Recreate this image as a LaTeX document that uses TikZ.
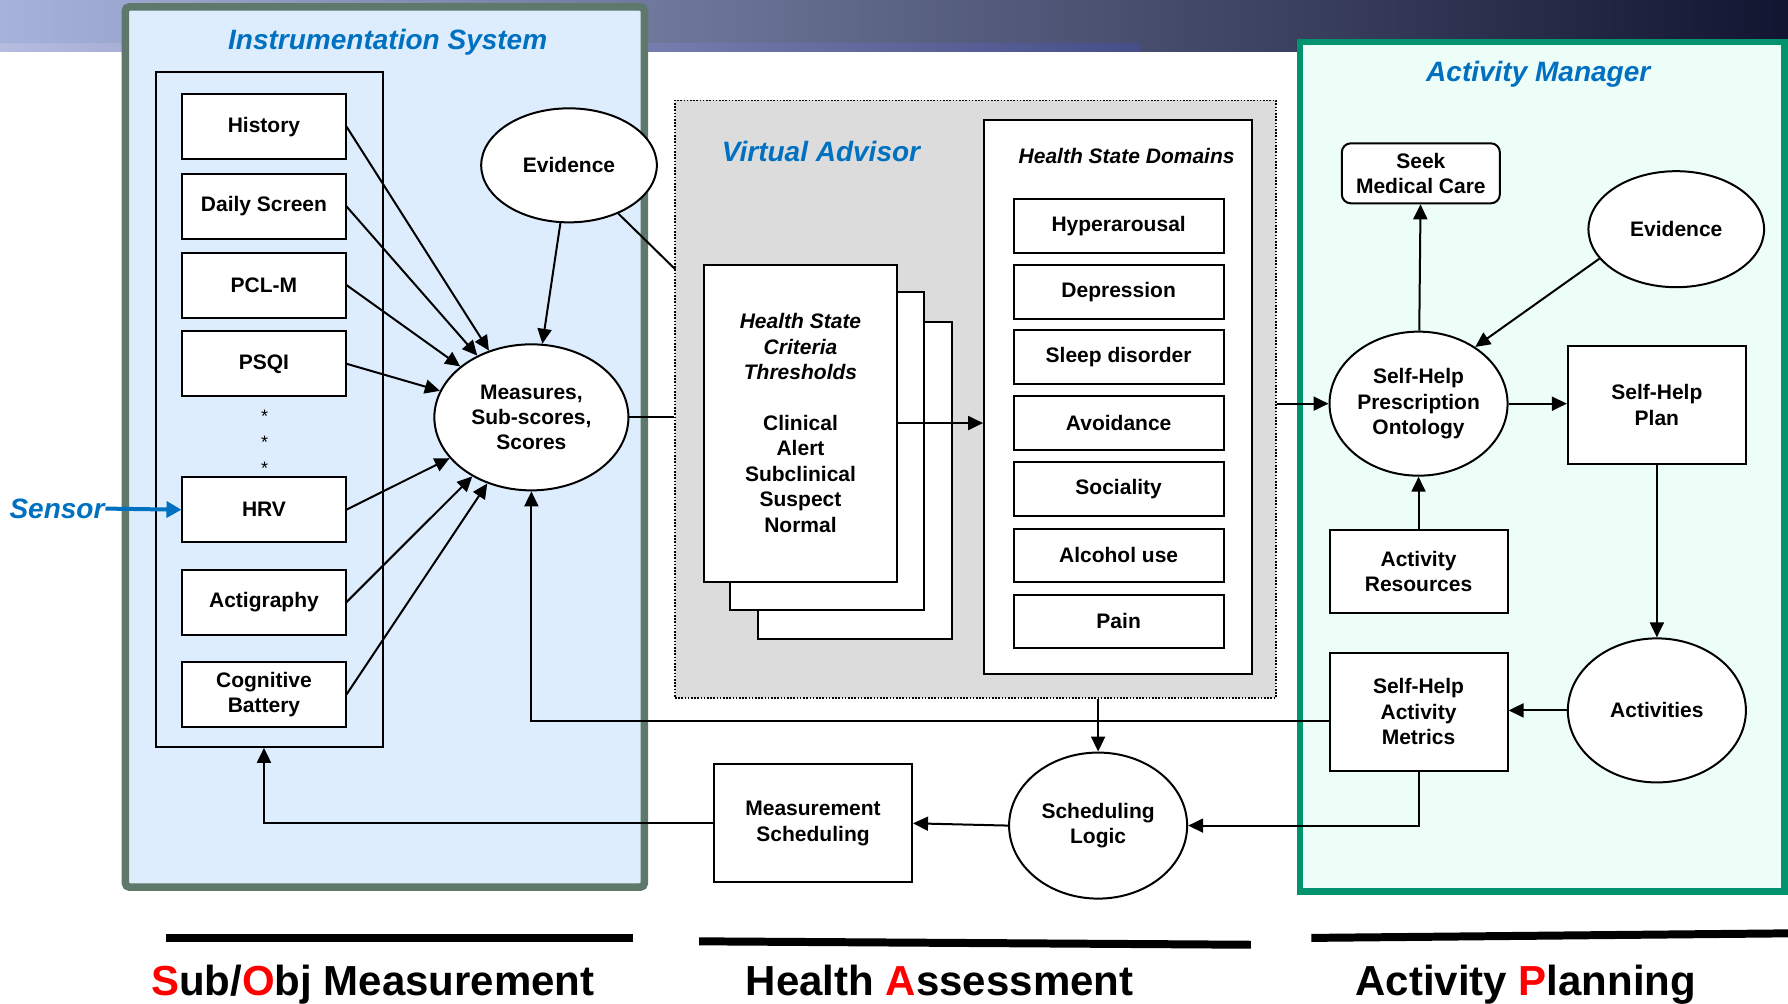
\documentclass[tikz,border=0pt]{standalone}
\usepackage{fontspec}
\setmainfont{Liberation Sans}
\usepackage{xcolor}
\usepackage{tikz}
\usetikzlibrary{arrows.meta, shapes.geometric}

\definecolor{titleblue}{HTML}{0070C0}
\definecolor{instrfill}{HTML}{DDEDFD}
\definecolor{instrline}{HTML}{5E786C}
\definecolor{vafill}{HTML}{DCDCDC}
\definecolor{amfill}{HTML}{EDFDF8}
\definecolor{amline}{HTML}{00936E}
\definecolor{banL}{HTML}{A6B2DA}
\definecolor{banM}{HTML}{464E88}
\definecolor{banR}{HTML}{111530}
\definecolor{banStrip}{HTML}{B4BCE0}

\newcommand{\boxfont}{\fontsize{10.5pt}{12.7pt}\selectfont\bfseries}
\newcommand{\titlefont}{\fontsize{14pt}{16pt}\selectfont\bfseries\itshape}
\newcommand{\bigfont}{\fontsize{21pt}{24pt}\selectfont\bfseries}

\tikzset{
  panel/.style={draw, rectangle, inner sep=0pt},
  boxnode/.style={draw, fill=white, rectangle, align=center, font=\boxfont, inner sep=2pt},
  ovalnode/.style={draw, fill=white, ellipse, align=center, font=\boxfont, inner sep=0pt},
  paneltitle/.style={font=\titlefont, text=titleblue},
  caption/.style={font=\bigfont, anchor=base},
}

\begin{document}
\begin{tikzpicture}[x=0.57pt, y=-0.57pt, line width=1pt,
  >={Triangle[length=7.5pt, width=7pt]}]

\useasboundingbox (0,0) rectangle (1568,880);

% banner along the top edge
\shade[left color=banL, middle color=banM, right color=banR] (0,0) rectangle (1568,45);
\shade[left color=banStrip, right color=banM] (0,38) rectangle (1000,45);

% the three panels
\node[panel, fill=instrfill, draw=instrline, line width=3.8pt, rounded corners=2pt,
  minimum width=259.4pt, minimum height=440pt] (instr) at (337.5,392) {};
\node[panel, fill=vafill, line width=0.8pt, dash pattern=on 0.8pt off 0.8pt,
  minimum width=300.4pt, minimum height=298.7pt] (va) at (855.5,350) {};
\node[panel, fill=amfill, draw=amline, line width=3.3pt,
  minimum width=242.3pt, minimum height=424.7pt] (am) at (1352.5,409.5) {};

\node[paneltitle] (instrtitle) at (340,37) {Instrumentation System};
\node[paneltitle] (vatitle) at (720,133) {Virtual Advisor};
\node[paneltitle] (amtitle) at (1349,65) {Activity Manager};

% instrumentation
\node[panel, minimum width=113.4pt, minimum height=337.4pt] (list) at (236.5,359) {};

\begin{scope}[every node/.style={boxnode, minimum width=81.5pt, minimum height=32.5pt}]
  \node (hist) at (231.5,111) {History};
  \node (daily) at (231.5,181) {Daily Screen};
  \node (pclm) at (231.5,250) {PCL-M};
  \node (psqi) at (231.5,319) {PSQI};
  \node (hrv) at (231.5,447) {HRV};
  \node (acti) at (231.5,528) {Actigraphy};
  \node (cogn) at (231.5,609) {Cognitive\\Battery};
\end{scope}

\foreach \y in {365,388,411}
  \node[font=\fontsize{9pt}{9pt}\selectfont] (star\y) at (232,\y) {*};

\node[ovalnode, minimum width=87.8pt, minimum height=57pt] (evl) at (499,145) {Evidence};
\node[ovalnode, minimum width=97pt, minimum height=73pt] (meas) at (466,366) {Measures,\\Sub-scores,\\Scores};

\node[paneltitle, inner sep=0pt] (sensor) at (50,446) {Sensor};

% virtual advisor
\begin{scope}[every node/.style={draw, fill=white, minimum width=96.9pt, minimum height=158.5pt}]
  \node (page3) at (750,421) {};
  \node (page2) at (725.5,395.5) {};
  \node[align=center, font=\boxfont] (page1) at (702,371)
    {\textit{Health State}\\\textit{Criteria}\\\textit{Thresholds}\\[12.7pt]
     Clinical\\Alert\\Subclinical\\Suspect\\Normal};
\end{scope}

\node[draw, fill=white, minimum width=134pt, minimum height=277pt] (dom) at (980.5,348) {};
\node[font=\boxfont\itshape] (domtitle) at (988,137) {Health State Domains};
\foreach \name/\y [count=\i] in {Hyperarousal/198, Depression/256, Sleep disorder/313,
    Avoidance/371, Sociality/429, Alcohol use/487, Pain/545}
  \node[boxnode, minimum width=105pt, minimum height=26.8pt] (d\i) at (981,\y) {\name};

% activity manager
\node[boxnode, rounded corners=4.5pt, minimum width=79pt, minimum height=30pt] (seek) at (1246,152) {Seek\\Medical Care};
\node[ovalnode, minimum width=87.8pt, minimum height=58pt] (evr) at (1470,201) {Evidence};
\node[ovalnode, minimum width=89pt, minimum height=72pt] (onto) at (1244,354) {Self-Help\\Prescription\\Ontology};
\node[boxnode, minimum width=89pt, minimum height=59pt] (plan) at (1453,355) {Self-Help\\Plan};
\node[boxnode, minimum width=89pt, minimum height=41.6pt] (res) at (1244,501) {Activity\\Resources};
\node[ovalnode, minimum width=89pt, minimum height=72pt] (act) at (1453,623) {Activities};
\node[boxnode, minimum width=89pt, minimum height=59pt] (metr) at (1244,624) {Self-Help\\Activity\\Metrics};

% scheduling
\node[ovalnode, minimum width=89pt, minimum height=73pt] (sched) at (963,724) {Scheduling\\Logic};
\node[boxnode, minimum width=99pt, minimum height=59pt] (msch) at (713,722) {Measurement\\Scheduling};

\coordinate (vain) at (592,236);

% connectors
\path[->] (hist.east) edge (meas);
\path[->] (daily.east) edge (meas);
\path[->] (pclm.east) edge (meas);
\path[->] (psqi.east) edge (meas);
\path[->] (hrv.east) edge (meas);
\path[->] (acti.east) edge (meas);
\path[->] (cogn.east) edge (meas);
\path[->] (evl) edge (meas);
\draw (evl) -- (vain);
\draw (meas.east) -- (meas.east -| va.west);
\draw[titleblue, line width=2pt, -{Triangle[length=7.5pt, width=8pt]}] (sensor.east) -- (hrv.west);

\draw[->] (page1.east) -- (page1.east -| dom.west);
\draw[->] (onto.west -| va.east) -- (onto.west);
\draw[->] (sched.north |- va.south) -- (sched.north);

\path[->] (onto) edge (seek);
\draw[->] (evr.201) -- (onto.45);
\draw[->] (onto.east) -- (onto.east -| plan.west);
\path[->] (res) edge (onto);
\path[->] (plan) edge (act);
\draw[->] (act.west) -- (act.west -| metr.east);
\draw[->] ([yshift=-4.5pt]metr.west) -| (meas.south);
\draw[->] (metr.south) |- (sched.east);
\draw[->] (sched.west) -- (msch.east);
\draw[->] (msch.west) -| (cogn.south |- list.south);

% captions under the panels
\fill (146,819) -- (555,819) -- (555,826) -- (146,826) -- cycle;
\fill (613,822) -- (1097,825) -- (1097,832) -- (613,829) -- cycle;
\fill (1150,819) -- (1568,815) -- (1568,822) -- (1150,826) -- cycle;

\node[caption] (lblmeas) at (327,873) {\textcolor{red}{S}ub/\textcolor{red}{O}bj Measurement};
\node[caption] (lblhealth) at (824,873) {Health \textcolor{red}{A}ssessment};
\node[caption] (lblplan) at (1338,873) {Activity \textcolor{red}{P}lanning};

\end{tikzpicture}
\end{document}
